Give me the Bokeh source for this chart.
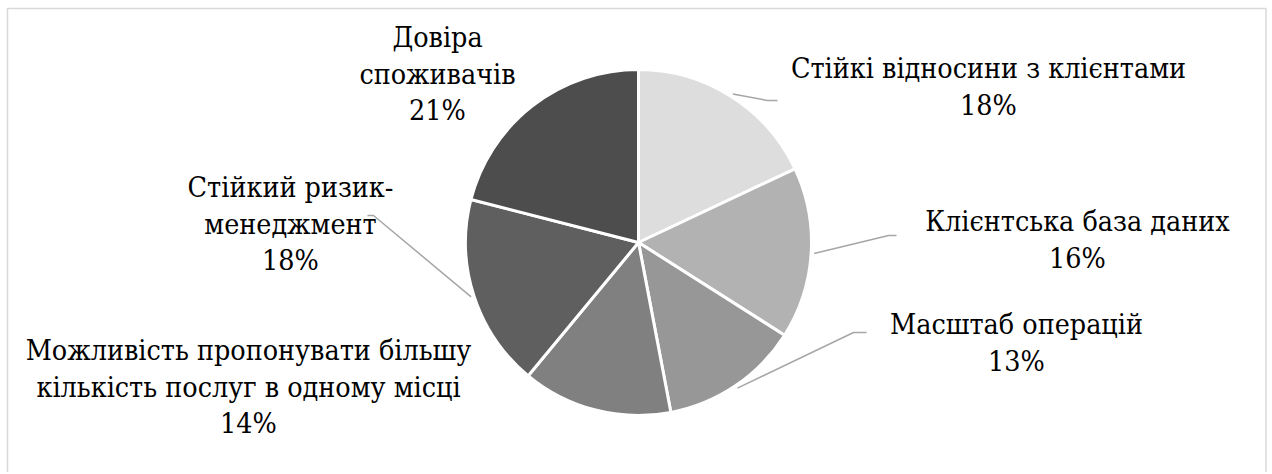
import math
from bokeh.plotting import figure
from bokeh.models import Range1d, ColumnDataSource
from bokeh.embed import file_html
from bokeh.resources import INLINE
from bokeh.core.properties import value

# ---- data ----
categories = [
    "Стійкі відносини з клієнтами",
    "Клієнтська база даних",
    "Масштаб операцій",
    "Можливість пропонувати більшу кількість послуг в одному місці",
    "Стійкий ризик-менеджмент",
    "Довіра споживачів",
]
shares = [18, 16, 13, 14, 18, 21]
label_lines = [
    ["Стійкі відносини з клієнтами"],
    ["Клієнтська база даних"],
    ["Масштаб операцій"],
    ["Можливість пропонувати більшу", "кількість послуг в одному місці"],
    ["Стійкий ризик-", "менеджмент"],
    ["Довіра", "споживачів"],
]
colors = ["#DDDDDD", "#B2B2B2", "#979797", "#808080", "#5F5F5F", "#4D4D4D"]

# ---- layout (screen pixels) ----
W, H = 1270, 472
CX, CY = 638, 242
R = 173
LS = 36.5
FONT = "DejaVu Serif Condensed"
FSIZE = "28.4px"
label_anchor = [(988, 68), (1077, 221), (1016, 324), (248, 350), (290, 187), (437, 37)]
leader_tail = {0: [(767, 100), (777, 100)], 1: [(888, 235), (896, 235)],
               2: [(853, 332), (866, 332)], 4: [(373, 215), (367, 215)]}


def dx(sx):
    return sx - CX


def dy(sy):
    return CY - sy


p = figure(width=W, height=H, output_backend="svg", toolbar_location=None,
           x_range=Range1d(0 - CX, W - CX), y_range=Range1d(CY - H, CY - 0),
           x_axis_location=None, y_axis_location=None, min_border=0)
p.grid.visible = False
p.outline_line_color = None
p.background_fill_color = "white"
p.border_fill_color = "white"

total = float(sum(shares))
starts, ends, mids = [], [], []
cum = 0.0
for s in shares:
    a0 = math.pi / 2 - 2 * math.pi * cum / total
    cum += s
    a1 = math.pi / 2 - 2 * math.pi * cum / total
    starts.append(a0)
    ends.append(a1)
    mids.append((a0 + a1) / 2)

src = ColumnDataSource(dict(cat=categories, share=shares, start=starts, end=ends, color=colors))
p.wedge(x=0, y=0, radius=R, start_angle="start", end_angle="end", direction="clock",
        fill_color="color", line_color="white", line_width=3, source=src)

# leader lines
xs, ys = [], []
for i, tail in leader_tail.items():
    r0 = R + 3
    lx = [r0 * math.cos(mids[i])] + [dx(t[0]) for t in tail]
    ly = [r0 * math.sin(mids[i])] + [dy(t[1]) for t in tail]
    xs.append(lx)
    ys.append(ly)
p.multi_line(xs=xs, ys=ys, line_color="#A6A6A6", line_width=1.5)

# labels
tx, ty, tt = [], [], []
for i, lines in enumerate(label_lines):
    ax, ay = label_anchor[i]
    allines = lines + [f"{shares[i]}%"]
    for j, ln in enumerate(allines):
        tx.append(dx(ax))
        ty.append(dy(ay + j * LS))
        tt.append(ln)
tsrc = ColumnDataSource(dict(x=tx, y=ty, text=tt))
p.text(x="x", y="y", text="text", text_font=value(FONT), text_font_size=FSIZE,
       text_align="center", text_baseline="middle", text_color="#000000", source=tsrc)

# chart area border (left, top, right)
p.line(x=[dx(7), dx(7), dx(1265.5), dx(1265.5)],
       y=[dy(490), dy(8), dy(8), dy(490)], line_color="#D9D9D9", line_width=1.5)

open("out.html", "w").write(file_html(p, INLINE))
